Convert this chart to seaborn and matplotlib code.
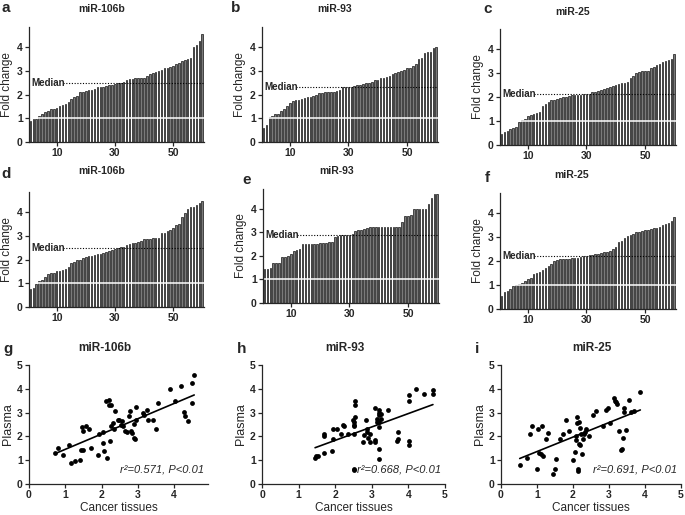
import numpy as np
import matplotlib
matplotlib.use("Agg")
import matplotlib.pyplot as plt
import seaborn as sns

# sorted fold changes, 60 patients per panel
plasma_106b = [0.90, 0.95, 0.95, 1.10, 1.20, 1.25, 1.30, 1.40, 1.40, 1.45,
               1.50, 1.55, 1.60, 1.70, 1.80, 1.90, 1.95, 2.10, 2.10, 2.15,
               2.20, 2.20, 2.25, 2.30, 2.30, 2.30, 2.35, 2.40, 2.40, 2.45,
               2.50, 2.50, 2.55, 2.60, 2.65, 2.65, 2.70, 2.70, 2.70, 2.70,
               2.80, 2.85, 2.90, 2.95, 3.00, 3.05, 3.10, 3.10, 3.15, 3.20,
               3.30, 3.35, 3.40, 3.45, 3.50, 3.55, 4.00, 4.10, 4.25, 4.55]
plasma_93 = [0.60, 0.70, 1.05, 1.10, 1.20, 1.20, 1.30, 1.40, 1.50, 1.65,
             1.75, 1.78, 1.78, 1.80, 1.85, 1.88, 1.90, 1.95, 2.00, 2.05,
             2.08, 2.10, 2.10, 2.12, 2.12, 2.15, 2.20, 2.30, 2.30, 2.32,
             2.33, 2.38, 2.40, 2.42, 2.45, 2.50, 2.50, 2.55, 2.60, 2.62,
             2.70, 2.72, 2.75, 2.80, 2.85, 2.92, 2.95, 3.00, 3.05, 3.10,
             3.10, 3.20, 3.30, 3.50, 3.55, 3.75, 3.80, 3.80, 3.95, 4.00]
plasma_25 = [0.45, 0.55, 0.60, 0.65, 0.70, 0.75, 0.95, 1.05, 1.10, 1.20,
             1.25, 1.30, 1.35, 1.40, 1.65, 1.70, 1.80, 1.88, 1.90, 1.92,
             1.95, 2.00, 2.02, 2.05, 2.07, 2.08, 2.10, 2.10, 2.12, 2.15,
             2.15, 2.20, 2.22, 2.25, 2.30, 2.35, 2.40, 2.42, 2.45, 2.50,
             2.55, 2.58, 2.60, 2.65, 2.80, 2.90, 3.00, 3.05, 3.08, 3.10,
             3.10, 3.20, 3.25, 3.35, 3.40, 3.45, 3.50, 3.55, 3.60, 3.80]
tissue_106b = [0.75, 0.80, 0.95, 1.10, 1.15, 1.25, 1.40, 1.42, 1.45, 1.50,
               1.52, 1.55, 1.60, 1.70, 1.85, 1.90, 2.00, 2.00, 2.05, 2.10,
               2.15, 2.15, 2.20, 2.22, 2.25, 2.28, 2.30, 2.35, 2.40, 2.45,
               2.50, 2.52, 2.55, 2.60, 2.65, 2.70, 2.72, 2.75, 2.80, 2.85,
               2.85, 2.88, 2.90, 2.90, 2.92, 3.10, 3.12, 3.20, 3.25, 3.35,
               3.45, 3.50, 3.80, 3.95, 4.15, 4.20, 4.20, 4.30, 4.40, 4.45]
tissue_93 = [1.45, 1.45, 1.50, 1.70, 1.70, 1.70, 1.95, 1.95, 2.00, 2.10,
             2.20, 2.25, 2.30, 2.50, 2.50, 2.50, 2.50, 2.50, 2.52, 2.55,
             2.55, 2.55, 2.58, 2.60, 2.80, 2.85, 2.88, 2.88, 2.88, 2.88,
             2.92, 3.05, 3.10, 3.12, 3.15, 3.20, 3.22, 3.22, 3.22, 3.22,
             3.22, 3.22, 3.22, 3.22, 3.22, 3.25, 3.25, 3.45, 3.70, 3.72,
             3.75, 4.00, 4.00, 4.00, 4.00, 4.00, 4.20, 4.45, 4.65, 4.65]
tissue_25 = [0.55, 0.70, 0.75, 0.85, 0.95, 1.00, 1.05, 1.10, 1.15, 1.25,
             1.30, 1.45, 1.50, 1.55, 1.65, 1.70, 1.80, 1.90, 2.00, 2.05,
             2.07, 2.08, 2.10, 2.10, 2.12, 2.13, 2.15, 2.18, 2.20, 2.22,
             2.25, 2.27, 2.30, 2.32, 2.35, 2.38, 2.40, 2.42, 2.50, 2.60,
             2.80, 2.85, 2.95, 3.05, 3.10, 3.15, 3.20, 3.22, 3.25, 3.30,
             3.32, 3.35, 3.38, 3.40, 3.42, 3.50, 3.55, 3.60, 3.70, 3.85]

# paired samples (cancer tissue, plasma)
g_tissue = [0.72, 0.79, 0.95, 1.11, 1.17, 1.28, 1.40, 1.42, 1.49, 1.45,
            1.50, 1.58, 1.64, 1.71, 1.91, 1.94, 2.04, 2.03, 2.06, 2.11,
            2.20, 2.19, 2.27, 2.16, 2.23, 2.25, 2.31, 2.36, 2.34, 2.44,
            2.49, 2.53, 2.57, 2.58, 2.65, 2.71, 2.76, 2.78, 2.81, 2.85,
            2.90, 2.90, 2.93, 2.94, 2.96, 3.13, 3.18, 3.24, 3.27, 3.41,
            3.50, 3.55, 3.87, 4.03, 4.19, 4.27, 4.29, 4.38, 4.49, 4.49, 4.55]
g_plasma = [1.30, 1.51, 1.21, 1.62, 0.90, 0.96, 1.01, 1.42, 1.44, 2.39,
            2.21, 2.43, 2.29, 1.53, 1.22, 2.08, 2.18, 1.74, 1.40, 3.47,
            3.54, 3.32, 3.32, 1.10, 1.82, 2.42, 2.57, 3.08, 2.32, 2.67,
            2.71, 2.50, 2.63, 2.42, 2.22, 2.18, 2.85, 3.07, 2.21, 2.14,
            2.53, 1.93, 1.89, 2.69, 3.22, 2.97, 2.90, 3.13, 2.71, 2.71,
            2.32, 3.40, 4.01, 3.50, 4.10, 3.04, 2.85, 2.64, 3.40, 4.26, 4.57]
h_tissue = [1.45, 1.47, 1.52, 1.70, 1.70, 1.70, 1.92, 1.93, 1.95, 2.05,
            2.15, 2.20, 2.25, 2.35, 2.48, 2.50, 2.50, 2.52, 2.50, 2.50,
            2.50, 2.55, 2.55, 2.55, 2.75, 2.78, 2.85, 2.88, 2.88, 2.90,
            2.95, 2.95, 3.10, 3.10, 3.10, 3.15, 3.15, 3.20, 3.20, 3.20,
            3.20, 3.20, 3.20, 3.20, 3.25, 3.25, 3.45, 3.70, 3.72, 3.72,
            4.02, 4.02, 4.02, 4.02, 4.20, 4.42, 4.67, 4.67]
h_plasma = [1.10, 1.17, 1.18, 1.30, 2.00, 2.10, 1.40, 1.87, 2.30, 2.30,
            2.10, 2.50, 2.42, 2.08, 2.70, 2.60, 2.50, 2.45, 2.08, 0.65,
            0.60, 3.50, 3.30, 2.80, 1.75, 2.05, 2.70, 2.30, 2.20, 1.95,
            2.10, 1.75, 3.20, 1.85, 1.78, 2.75, 2.60, 3.10, 3.00, 2.90,
            2.60, 2.40, 1.48, 1.05, 2.95, 2.75, 3.10, 1.80, 1.90, 2.20,
            3.75, 3.47, 1.82, 1.62, 4.00, 3.80, 3.95, 3.80]
i_tissue = [0.52, 0.72, 0.81, 0.86, 1.00, 1.03, 1.06, 1.11, 1.14, 1.16,
            1.26, 1.31, 1.44, 1.49, 1.53, 1.65, 1.71, 1.81, 1.88, 1.99,
            2.06, 2.08, 2.09, 2.11, 2.11, 2.14, 2.14, 2.16, 2.18, 2.19,
            2.20, 2.23, 2.25, 2.27, 2.30, 2.32, 2.36, 2.44, 2.55, 2.65,
            2.83, 2.92, 2.96, 3.04, 3.13, 3.16, 3.19, 3.22, 3.27, 3.33,
            3.36, 3.38, 3.42, 3.43, 3.47, 3.56, 3.61, 3.70, 3.87]
i_plasma = [0.79, 1.10, 2.08, 2.43, 0.65, 2.29, 1.32, 1.24, 2.43, 1.18,
            1.90, 2.14, 0.44, 0.61, 1.07, 1.90, 2.08, 2.67, 2.21, 1.00,
            1.35, 1.83, 2.01, 2.81, 2.57, 0.65, 0.54, 1.69, 2.60, 2.36,
            1.63, 2.08, 1.25, 1.90, 2.11, 2.18, 2.32, 2.00, 2.90, 3.08,
            2.42, 3.11, 3.19, 2.57, 3.62, 3.50, 3.43, 3.36, 2.21, 1.42,
            1.49, 1.93, 3.01, 3.18, 2.25, 3.54, 3.04, 3.07, 3.87]

names = ["miR-106b", "miR-93", "miR-25"]
stats = ["r\u00b2=0.571, P<0.01", "r\u00b2=0.668, P<0.01", "r\u00b2=0.691, P<0.01"]

sns.set_style("ticks")
plt.rcParams["font.family"] = ["Liberation Sans", "DejaVu Sans"]
plt.rcParams["axes.linewidth"] = 0.9

W, H = 685, 515
fig = plt.figure(figsize=(W / 100, H / 100), dpi=100)


def add_ax(left, right, bottom, top):
    return fig.add_axes([left / W, 1 - bottom / H, (right - left) / W, (bottom - top) / H])


def style(ax):
    sns.despine(ax=ax)
    ax.tick_params(length=3, width=0.9, labelsize=7.5, pad=1.5)
    for lab in ax.get_xticklabels() + ax.get_yticklabels():
        lab.set_fontweight("bold")


def fold_panel(ax, vals):
    vals = np.sort(vals)
    pos = np.arange(1, len(vals) + 1)
    sns.barplot(x=pos, y=vals, native_scale=True, color="#7a7a7a", saturation=1,
                edgecolor="black", linewidth=0.45, width=0.55, errorbar=None, ax=ax)
    med = np.median(vals)
    ax.axhline(1, color="white", lw=1.1)
    ax.plot([12.2, 60.6], [med, med], ls=(0, (1, 1.5)), color="black", lw=0.8)
    ax.text(1.2, med, "Median", fontsize=7, fontweight="bold", ha="left", va="center")
    ax.set_xlim(0.5, 60.6)
    ax.set_ylim(0, 4.85)
    ax.set_xticks([10, 30, 50])
    ax.set_yticks([0, 1, 2, 3, 4])
    ax.set_xlabel("")
    ax.set_ylabel("Fold change", fontsize=8.5, labelpad=3)
    style(ax)


bar_rows = [
    [(29, 204, 142, 27), (262, 438, 142, 27), (500, 676, 145, 29)],
    [(29, 204, 307, 192), (263, 439, 303, 189), (500, 676, 309, 193)],
]
bar_data = [[plasma_106b, plasma_93, plasma_25], [tissue_106b, tissue_93, tissue_25]]
for rect_row, data_row in zip(bar_rows, bar_data):
    for rect, vals in zip(rect_row, data_row):
        fold_panel(add_ax(*rect), vals)

scatter_rects = [(29, 208, 484, 365), (262, 445, 484, 365), (501, 681, 484, 365)]
scatter_data = [(g_tissue, g_plasma), (h_tissue, h_plasma), (i_tissue, i_plasma)]
for k, (rect, (tx, py)) in enumerate(zip(scatter_rects, scatter_data)):
    ax = add_ax(*rect)
    sns.regplot(x=np.array(tx), y=np.array(py), ci=None, ax=ax,
                scatter_kws=dict(s=12, color="black", linewidths=0, alpha=1),
                line_kws=dict(color="black", lw=1.2))
    ax.set_ylim(0, 5)
    ax.set_yticks([0, 1, 2, 3, 4, 5])
    if k == 0:
        ax.set_xlim(0, 4.93)
        ax.set_xticks([0, 1, 2, 3, 4])
    else:
        ax.set_xlim(0, 5)
        ax.set_xticks([0, 1, 2, 3, 4, 5])
    ax.set_xlabel("Cancer tissues", fontsize=8.5, labelpad=1)
    ax.set_ylabel("Plasma", fontsize=9, labelpad=2)
    ax.text(0.98, 0.08, stats[k], transform=ax.transAxes, ha="right", va="bottom",
            fontsize=8, fontstyle="italic")
    style(ax)

# titles and panel letters (figure pixel positions)
titles = [(102, 9), (335, 9), (573, 12), (102, 171), (337, 171), (572, 175),
          (105, 348), (345, 348), (592, 348)]
letters = [(6, 8, "a"), (236, 8, "b"), (488, 9, "c"), (6, 174, "d"), (247, 180, "e"),
           (487, 178, "f"), (8, 349, "g"), (242, 349, "h"), (477, 349, "i")]
for n, (x, y) in enumerate(titles):
    fig.text(x / W, 1 - y / H, names[n % 3], fontsize=7.5 if n < 6 else 8.5,
             fontweight="bold", ha="center", va="center")
for x, y, t in letters:
    fig.text(x / W, 1 - y / H, t, fontsize=11, fontweight="bold", ha="center", va="center")

fig.savefig("out.png", dpi=100)
